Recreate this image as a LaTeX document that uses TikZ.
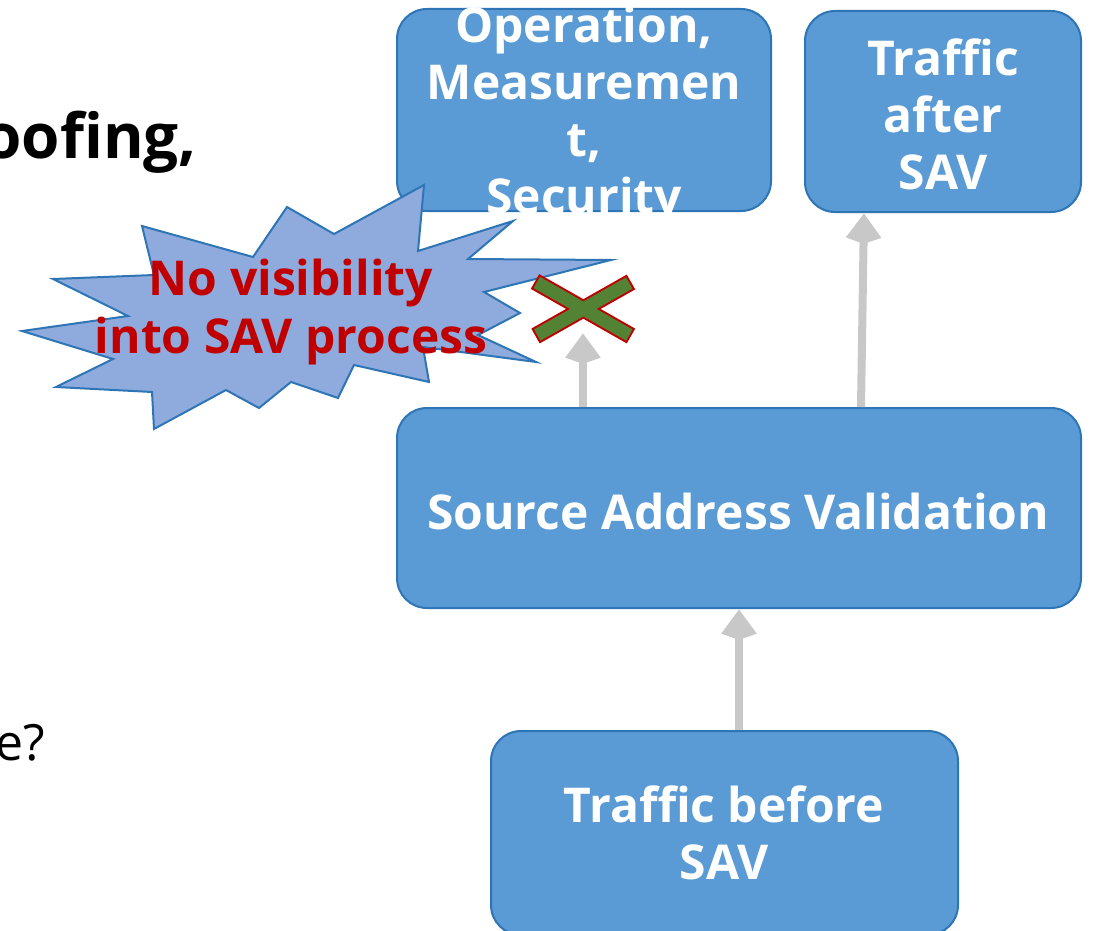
\documentclass[tikz,border=0pt]{standalone}
\usepackage{fontspec}
\setmainfont{Open Sans}
\usetikzlibrary{arrows.meta}
\definecolor{boxfill}{HTML}{5B9BD5}
\definecolor{boxline}{HTML}{2E75B6}
\definecolor{burstfill}{HTML}{8FAADC}
\definecolor{alertred}{HTML}{C00000}
\definecolor{crossgreen}{HTML}{548235}
\definecolor{flowgray}{HTML}{C8C8C8}
\tikzset{
  stage/.style={draw=boxline, line width=2pt, fill=boxfill, rounded corners=30pt, inner sep=0pt},
  stagetext/.style={text=white, font=\bfseries\fontsize{48}{57}\selectfont, align=center, inner sep=0pt},
  bursttext/.style={text=alertred, font=\bfseries\fontsize{48}{58}\selectfont, align=center, inner sep=0pt},
  flow/.style={draw=flowgray, line width=8pt, -{Stealth[length=24pt,width=32pt,inset=-7pt]}},
  crossedge/.style={draw=alertred, line width=17pt},
  crossbar/.style={draw=crossgreen, line width=13pt, shorten <=2pt, shorten >=2pt},
}
\begin{document}
\begin{tikzpicture}[x=1pt,y=-1pt]
\useasboundingbox (0,0) rectangle (1095,931);
\clip (0,0) rectangle (1095,931);

% slide text running in from the left
\node[anchor=base east, inner sep=0pt, font=\bfseries\fontsize{62}{72}\selectfont] (title) at (197,158) {oofing,};
\node[anchor=base east, inner sep=0pt, font=\fontsize{50}{60}\selectfont] (question) at (45,760) {e?};

% process boxes
\node[stage, minimum width=374pt, minimum height=202pt] (ops) at (584,110) {};
\node[stage, minimum width=276pt, minimum height=201pt] (after) at (943,111.5) {};
\node[stage, minimum width=684pt, minimum height=200pt] (sav) at (739,508) {};
\node[stage, minimum width=467pt, minimum height=204pt] (before) at (724.5,833) {};

\node[stagetext] (opstext) at (584,116) {Operation,\\Measuremen\\t,\\Security};
\node[stagetext] (aftertext) at (943,114) {Traffic\\after\\SAV};
\node[stagetext] (savtext) at (738,511) {Source Address Validation};
\node[stagetext] (beforetext) at (724,833) {Traffic before\\SAV};

% flows between the stages
\coordinate (blocked) at (583,333);
\draw[flow] ([xshift=-156pt]sav.north) -- (blocked);
\draw[flow] ([xshift=122pt]sav.north) -- ([xshift=-79pt]after.south);
\draw[flow] (before.north -| sav.south) -- (sav.south);

% explosion callout
\draw[draw=boxline, line width=2pt, fill=burstfill, line join=miter]
  (424,185) -- (418,251) -- (513,221) -- (468,259) -- (611,260) -- (484,292)
  -- (520,313) -- (478,335) -- (536,362) -- (423,347) -- (429,382) -- (354,365)
  -- (338,398) -- (291,382) -- (259,408) -- (226,390) -- (154,429) -- (152,392)
  -- (56,387) -- (113,359) -- (22,331) -- (128,316) -- (53,279) -- (154,275)
  -- (142,226) -- (253,257) -- (287,207) -- (334,234) -- cycle;
\node[bursttext] (bursttxt) at (291,312) {No visibility\\into SAV process};

% cross over the blocked flow
\coordinate (xa) at (535,281.5);
\coordinate (xb) at (631,336);
\coordinate (xc) at (535.5,336);
\coordinate (xd) at (631,282);
\draw[crossedge] (xa) -- (xb);
\draw[crossedge] (xc) -- (xd);
\draw[crossbar] (xa) -- (xb);
\draw[crossbar] (xc) -- (xd);
\end{tikzpicture}
\end{document}
